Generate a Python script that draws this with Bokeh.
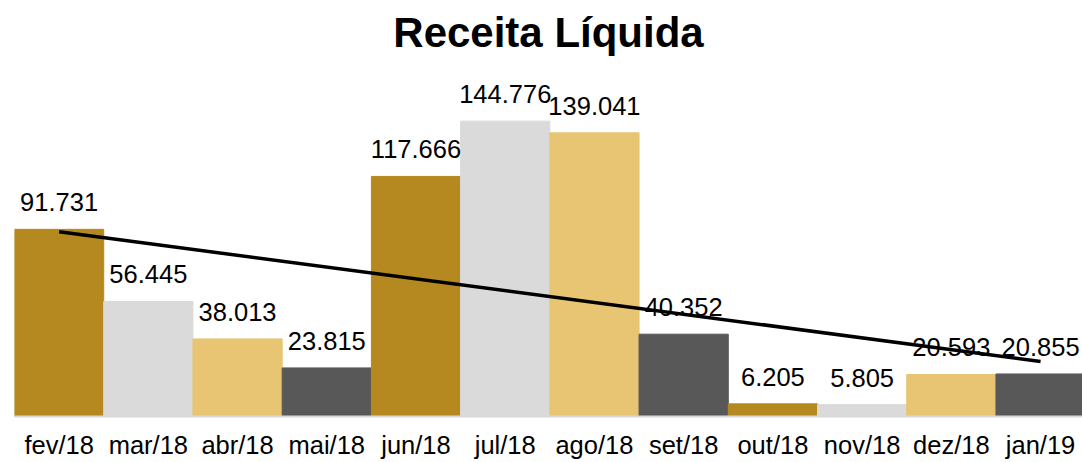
import numpy as np
from bokeh.plotting import figure
from bokeh.models import ColumnDataSource, FixedTicker, Range1d
from bokeh.core.properties import value
from bokeh.embed import file_html
from bokeh.resources import INLINE

# ---- data ----
categories = ["fev/18", "mar/18", "abr/18", "mai/18", "jun/18", "jul/18",
              "ago/18", "set/18", "out/18", "nov/18", "dez/18", "jan/19"]
receita = [91731, 56445, 38013, 23815, 117666, 144776,
           139041, 40352, 6205, 5805, 20593, 20855]
labels = ["91.731", "56.445", "38.013", "23.815", "117.666", "144.776",
          "139.041", "40.352", "6.205", "5.805", "20.593", "20.855"]
palette = ["#B5891F", "#DADADA", "#E7C572", "#585858"]

FONT = "Liberation Sans"

xs = [i + 0.5 for i in range(len(categories))]
colors = [palette[i % 4] for i in range(len(categories))]
src = ColumnDataSource(dict(x=xs, top=receita, color=colors, label=labels))

p = figure(width=1082, height=462, output_backend="svg", toolbar_location=None,
           x_range=Range1d(0, 11.97), y_range=Range1d(0, 174500),
           min_border_left=14, min_border_right=0, min_border_top=60,
           min_border_bottom=46)
p.outline_line_color = None
p.xgrid.visible = False
p.ygrid.visible = False
p.yaxis.visible = False

p.title.text = "Receita Líquida"
p.title.align = "center"
p.title.text_font = FONT
p.title.text_font_size = "42px"
p.title.text_font_style = "bold"
p.title.text_color = "#000000"

p.vbar(x="x", top="top", width=1.0, bottom=0, color="color", source=src)

# linear trend line
coef = np.polyfit(np.arange(1, len(receita) + 1), receita, 1)
trend_x = [xs[0], xs[-1]]
trend_y = [coef[0] * 1 + coef[1], coef[0] * len(receita) + coef[1]]
p.line(trend_x, trend_y, line_color="#000000", line_width=3.5)

p.text(x="x", y="top", text="label", source=src, text_align="center",
       text_baseline="alphabetic", y_offset=-27,
       text_font=value(FONT), text_font_size="25.5px", text_color="#000000")

ax = p.xaxis[0]
ax.ticker = FixedTicker(ticks=xs)
ax.major_label_overrides = {x: c for x, c in zip(xs, categories)}
ax.major_tick_line_color = None
ax.minor_tick_line_color = None
ax.axis_line_color = "#D9D9D9"
ax.axis_line_width = 2
ax.major_label_standoff = 8
ax.major_label_text_font = FONT
ax.major_label_text_font_size = "25.5px"
ax.major_label_text_color = "#000000"

open("out.html", "w").write(file_html(p, INLINE))
